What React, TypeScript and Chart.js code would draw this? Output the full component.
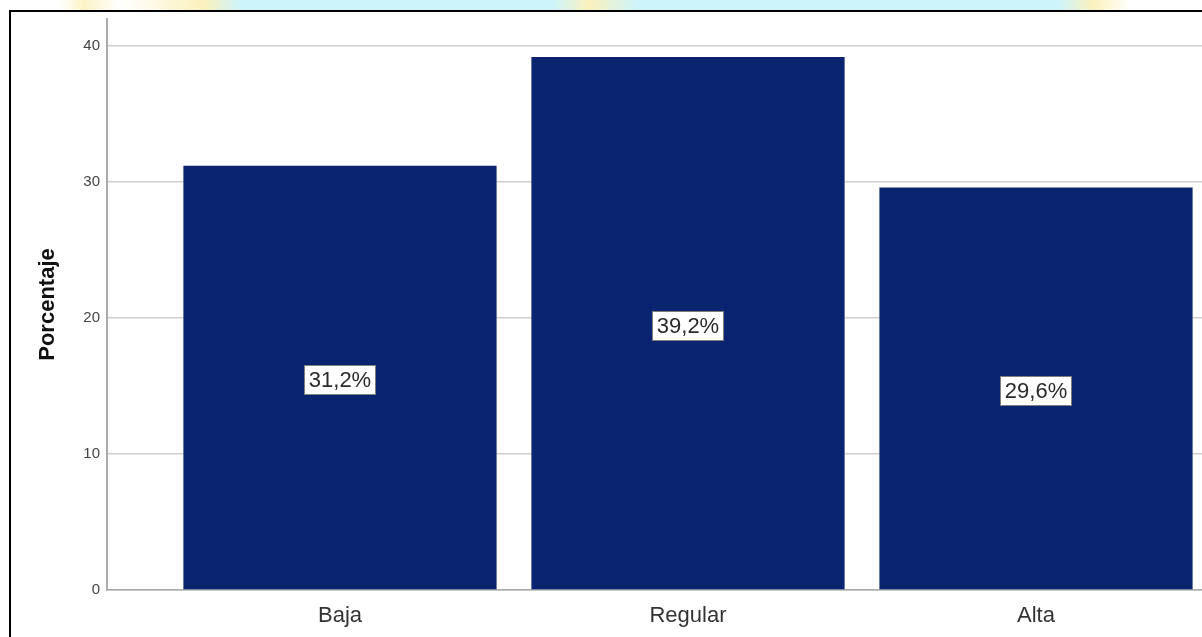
import React, { useEffect, useRef } from "react";
import { Chart, registerables } from "chart.js";

Chart.register(...registerables);

const categories: string[] = ["Baja", "Regular", "Alta"];
const percentages: number[] = [31.2, 39.2, 29.6];
const yTickValues: number[] = [0, 10, 20, 30, 40];
const yAxisTitle = "Porcentaje";

const BAR_COLOR = "#0a2470";

const labelPlugin = {
  id: "midLabels",
  afterDatasetsDraw(chart: any) {
    const { ctx } = chart;
    const meta = chart.getDatasetMeta(0);
    const yScale = chart.scales.y;
    ctx.save();
    ctx.font = '22px "Liberation Sans", Arial, sans-serif';
    ctx.textAlign = "center";
    ctx.textBaseline = "middle";
    meta.data.forEach((el: any, i: number) => {
      const v = percentages[i];
      const text = v.toFixed(1).replace(".", ",") + "%";
      const cx = el.x;
      const cy = yScale.getPixelForValue(v / 2) + 2;
      const w = ctx.measureText(text).width + 10;
      const h = 30;
      ctx.fillStyle = "#ffffff";
      ctx.fillRect(Math.round(cx - w / 2), Math.round(cy - h / 2), Math.round(w), h);
      ctx.strokeStyle = "#7d7d7d";
      ctx.lineWidth = 1;
      ctx.strokeRect(Math.round(cx - w / 2) + 0.5, Math.round(cy - h / 2) + 0.5, Math.round(w) - 1, h - 1);
      ctx.fillStyle = "#2a2a2a";
      ctx.fillText(text, cx, cy + 1);
    });
    ctx.restore();
  },
};

export default function App() {
  const canvasRef = useRef<HTMLCanvasElement | null>(null);

  useEffect(() => {
    if (!canvasRef.current) return;
    const chart = new Chart(canvasRef.current, {
      type: "bar",
      data: {
        datasets: [
          {
            data: percentages.map((v, i) => ({ x: i, y: v })),
            backgroundColor: BAR_COLOR,
            borderWidth: 0,
            categoryPercentage: 1,
            barPercentage: 0.9,
          },
        ],
      },
      options: {
        animation: false,
        responsive: false,
        devicePixelRatio: 1,
        layout: { padding: { top: 7, right: 0, bottom: 0, left: 0 } },
        plugins: {
          legend: { display: false },
          tooltip: { enabled: false },
        },
        scales: {
          x: {
            type: "linear",
            min: -0.6695,
            max: 2.477,
            offset: false,
            grid: { display: false, drawTicks: false, offset: false },
            border: { display: true, color: "#a9a9a9", width: 1.5 },
            afterBuildTicks: (scale: any) => {
              scale.ticks = categories.map((_, i) => ({ value: i }));
            },
            afterFit: (scale: any) => {
              scale.height = 47;
              scale.paddingLeft = 0;
              scale.paddingRight = 0;
            },
            ticks: {
              maxRotation: 0,
              autoSkip: false,
              padding: 13,
              color: "#333333",
              font: { family: '"Liberation Sans", Arial, sans-serif', size: 22 },
              callback: (value: any) => categories[value as number] ?? "",
            },
          },
          y: {
            type: "linear",
            min: 0,
            max: 42,
            afterBuildTicks: (scale: any) => {
              scale.ticks = yTickValues.map((v) => ({ value: v }));
            },
            afterFit: (scale: any) => {
              scale.width = 96;
              scale.paddingTop = 0;
              scale.paddingBottom = 0;
            },
            grid: { color: "#cfcfcf", lineWidth: 1.5, drawTicks: false },
            border: { display: true, color: "#ababab", width: 2 },
            ticks: {
              padding: 7,
              color: "#444444",
              font: { family: '"Liberation Sans", Arial, sans-serif', size: 15 },
            },
            title: {
              display: true,
              text: yAxisTitle,
              color: "#111111",
              padding: { top: 24, bottom: 0 },
              font: { family: '"Liberation Sans", Arial, sans-serif', size: 22, weight: "bold" },
            },
          },
        },
      },
      plugins: [labelPlugin],
    } as any);
    return () => chart.destroy();
  }, []);

  return (
    <>
      <div
        style={{
          position: "fixed",
          left: 0,
          top: 0,
          width: 1202,
          height: 10,
          background:
            "linear-gradient(90deg, #ffffff 0%, #ffffff 5%, #fbf3c6 7%, #ffffff 10%, #fbf1bd 17%, #cdf4fb 20%, #cdf4fb 46%, #fbf1bd 49%, #cdf4fb 53%, #cdf4fb 88%, #fbf1bd 91%, #ffffff 94%, #ffffff 100%)",
        }}
      />
      <div
        style={{
          position: "fixed",
          left: 9,
          top: 10,
          width: 1193,
          height: 627,
          boxSizing: "border-box",
          borderTop: "2px solid #000",
          borderLeft: "2px solid #000",
          background: "#fff",
          overflow: "hidden",
        }}
      >
        <canvas ref={canvasRef} width={1191} height={625} style={{ display: "block" }} />
      </div>
    </>
  );
}
